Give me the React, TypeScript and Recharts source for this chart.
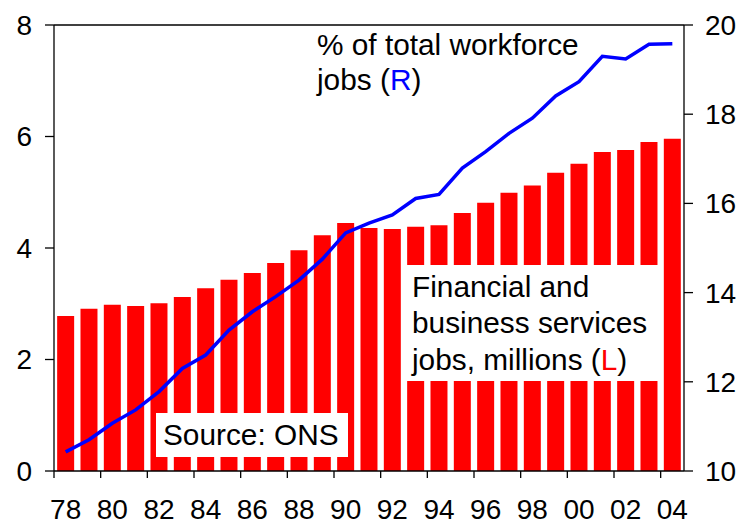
import { Bar, ComposedChart, Line, ReferenceLine, XAxis, YAxis } from "recharts";

const FONT = "Arial, 'Liberation Sans', Helvetica, sans-serif";

// 1978 .. 2004, two-digit labels as printed
const YEARS = [
  "78", "79", "80", "81", "82", "83", "84", "85", "86", "87", "88", "89", "90", "91",
  "92", "93", "94", "95", "96", "97", "98", "99", "00", "01", "02", "03", "04",
];
// Financial and business services jobs, millions (left axis)
const JOBS_M = [
  2.78, 2.91, 2.98, 2.96, 3.01, 3.12, 3.28, 3.43, 3.55, 3.73, 3.96, 4.23, 4.45, 4.36,
  4.34, 4.38, 4.41, 4.63, 4.81, 4.99, 5.12, 5.35, 5.51, 5.72, 5.76, 5.9, 5.96,
];
// % of total workforce jobs (right axis)
const SHARE_PCT = [
  10.43, 10.7, 11.07, 11.37, 11.78, 12.3, 12.6, 13.16, 13.57, 13.91, 14.28, 14.75, 15.34, 15.56,
  15.74, 16.11, 16.2, 16.79, 17.16, 17.57, 17.91, 18.41, 18.73, 19.3, 19.24, 19.57, 19.58,
];
const LEFT_TICKS = [0, 2, 4, 6, 8];
const RIGHT_TICKS = [10, 12, 14, 16, 18, 20];

const W = 740;
const H = 521;
const LEFT_W = 54;
const RIGHT_W = 56;
const X_H = 50;
const TOP = 25;

const data = YEARS.map((year, i) => ({ year, jobs: JOBS_M[i], share: SHARE_PCT[i] }));

const axisStroke = { stroke: "#000", strokeWidth: 1.3 };

// year label at the bar centre, tick mark on the left category boundary
// eslint-disable-next-line @typescript-eslint/no-explicit-any
function YearTick({ x, y, payload }: any) {
  const half = payload?.offset || (W - LEFT_W - RIGHT_W) / YEARS.length / 2;
  return (
    <g>
      <line x1={x - half} x2={x - half} y1={y} y2={y + 7} {...axisStroke} />
      <text x={x} y={y + 48} textAnchor="middle" fontSize={28} fill="#000" fontFamily={FONT}>
        {payload.value}
      </text>
    </g>
  );
}

function Notes() {
  const t = { fontSize: 29.8, fill: "#000", fontFamily: FONT };
  return (
    <svg width={W} height={H} style={{ position: "absolute", left: 0, top: 0, pointerEvents: "none" }}>
      <text x={317} y={55} {...t}>% of total workforce</text>
      <text x={317} y={90} {...t}>
        jobs (<tspan fill="#0000FF">R</tspan>)
      </text>

      <rect x={401} y={265} width={259} height={116} fill="#fff" />
      <text x={412} y={297} {...t}>Financial and</text>
      <text x={412} y={333} {...t}>business services</text>
      <text x={412} y={370} {...t}>
        jobs, millions (<tspan fill="#FF0000">L</tspan>)
      </text>

      <rect x={156} y={413} width={192} height={44} fill="#fff" />
      <text x={163} y={445} {...t}>Source: ONS</text>
    </svg>
  );
}

export default function App() {
  return (
    <div style={{ position: "absolute", left: 0, top: 0, width: W, height: H, background: "#fff" }}>
      <ComposedChart
        width={W}
        height={H}
        data={data}
        margin={{ top: TOP, right: 0, bottom: 0, left: 0 }}
        barCategoryGap="13.5%"
      >
        <XAxis
          dataKey="year"
          height={X_H}
          interval={1}
          tickSize={0}
          tickMargin={0}
          tickLine={false}
          axisLine={axisStroke}
          tick={<YearTick />}
        />
        <YAxis
          yAxisId="left"
          orientation="left"
          width={LEFT_W}
          domain={[0, 8]}
          ticks={LEFT_TICKS}
          tickSize={9}
          tickMargin={13}
          axisLine={axisStroke}
          tickLine={axisStroke}
          tick={{ fill: "#000", fontSize: 28, fontFamily: FONT }}
        />
        <YAxis
          yAxisId="right"
          orientation="right"
          width={RIGHT_W}
          domain={[10, 20]}
          ticks={RIGHT_TICKS}
          tickSize={9}
          tickMargin={12}
          axisLine={axisStroke}
          tickLine={axisStroke}
          tick={{ fill: "#000", fontSize: 28, fontFamily: FONT }}
        />
        <ReferenceLine yAxisId="left" y={8} {...axisStroke} />
        <Bar yAxisId="left" dataKey="jobs" fill="#FF0000" isAnimationActive={false} />
        <Line
          yAxisId="right"
          dataKey="share"
          type="linear"
          stroke="#0000FF"
          strokeWidth={3.5}
          dot={false}
          isAnimationActive={false}
        />
      </ComposedChart>
      <Notes />
    </div>
  );
}
